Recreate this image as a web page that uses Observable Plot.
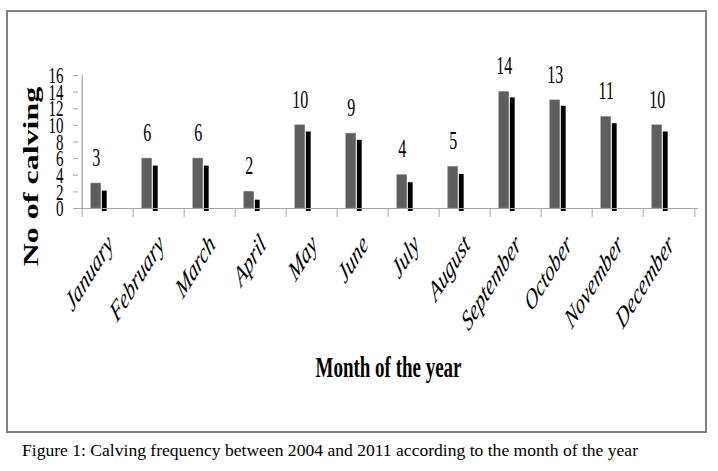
<!DOCTYPE html>
<html>
<head>
<meta charset="utf-8">
<script src="https://cdn.jsdelivr.net/npm/d3@7"></script>
<script src="https://cdn.jsdelivr.net/npm/@observablehq/plot@0.6"></script>
<style>
  html, body { margin: 0; padding: 0; background: #fff; }
  #wrap { position: relative; width: 718px; height: 471px; overflow: hidden; }
  #border { position: absolute; left: 6px; top: 10px; width: 697px; height: 419px; border: 2px solid #808080; }
  #chart { position: absolute; left: 0; top: 0; }
  #caption { position: absolute; left: 22px; top: 443px; font-family: "Liberation Serif", serif; font-size: 16.5px; line-height: 1; white-space: nowrap; transform-origin: 0 0; color: #000; }
</style>
</head>
<body>
<div id="wrap">
  <div id="border"></div>
  <div id="chart"></div>
  <div id="caption">Figure 1: Calving frequency between 2004 and 2011 according to the month of the year</div>
</div>
<script>
const months = ["January","February","March","April","May","June","July","August","September","October","November","December"];
const counts = [3, 6, 6, 2, 10, 9, 4, 5, 14, 13, 11, 10];
const shadowCounts = [2.1, 5.1, 5.1, 1.0, 9.2, 8.2, 3.1, 4.1, 13.3, 12.3, 10.2, 9.2];
const yTicks = [0, 2, 4, 6, 8, 10, 12, 14, 16];

const data = months.map((m, i) => ({month: m, count: counts[i], shadow: shadowCounts[i]}));

const W = 718, H = 436;
const mL = 78, mR = 20, mT = 75, mB = H - 208;
const bw = (W - mL - mR) / months.length;
const axisGray = "#a6a6a6";
const serif = "Liberation Serif, Times New Roman, serif";

const plot = Plot.plot({
  width: W,
  height: H,
  marginLeft: mL,
  marginRight: mR,
  marginTop: mT,
  marginBottom: mB,
  style: {fontFamily: serif, background: "transparent", overflow: "visible"},
  x: {type: "band", domain: months, padding: 0, axis: null},
  y: {domain: [0, 16], axis: null},
  marks: [
    // gray front bars
    Plot.barY(data, {x: "month", y: "count", fill: "#5e5e5e", stroke: "#7c7c7c", strokeWidth: 0.6,
      insetLeft: bw / 2 - 17, insetRight: bw / 2 + 6.5}),
    // black shadow bars
    Plot.barY(data, {x: "month", y: "shadow", fill: "#000",
      insetLeft: bw / 2 - 6, insetRight: bw / 2 + 0.5, insetBottom: -3}),
    // axis lines
    Plot.ruleY([0], {stroke: axisGray, strokeWidth: 1.2}),
    Plot.ruleX([months[0]], {x: d => d, dx: -bw / 2, y1: 0, y2: 16, stroke: axisGray, strokeWidth: 1.2}),
    // y axis ticks & labels
    Plot.axisY({ticks: yTicks, tickSize: 5, tickPadding: 10, stroke: axisGray, fontSize: 15, label: null, fill: "#000"}),
    // x axis boundary ticks
    Plot.axisX({tickSize: 9, dx: -bw / 2, tickFormat: () => "", stroke: axisGray, label: null}),
    Plot.axisX({ticks: [months[11]], tickSize: 9, dx: bw / 2, tickFormat: () => "", stroke: axisGray, label: null}),
    // month labels
    Plot.text(months, {x: d => d, frameAnchor: "bottom", dx: 2, dy: 31, rotate: -45, textAnchor: "end",
      lineAnchor: "middle", fontStyle: "italic", fontSize: 18, fill: "#000"}),
    // value labels
    Plot.text(data, {x: "month", y: "count", text: d => String(d.count), dx: -11.75, dy: -26,
      lineAnchor: "middle", fontSize: 16, fill: "#000"}),
    // axis titles
    Plot.text(["Month of the year"], {frameAnchor: "bottom", dy: 159, lineAnchor: "middle",
      fontWeight: "bold", fontSize: 19, fill: "#000"}),
    Plot.text(["No of calving"], {frameAnchor: "left", dx: -47, dy: 34.5, rotate: -90, lineAnchor: "middle",
      textAnchor: "middle", fontWeight: "bold", fontSize: 20, fill: "#000"})
  ]
});

// The reference figure is vertically stretched: stretch the glyphs the same way.
plot.querySelectorAll("text").forEach(t => {
  let tr = t.getAttribute("transform");
  if (!tr) {
    const x = +(t.getAttribute("x") || 0), y = +(t.getAttribute("y") || 0);
    t.removeAttribute("x"); t.removeAttribute("y");
    tr = `translate(${x},${y})`;
  }
  if (tr.includes("rotate(")) tr = tr.replace("rotate(", "scale(1,1.6) rotate(");
  else tr += " scale(1,1.6)";
  t.setAttribute("transform", tr);
});

document.getElementById("chart").appendChild(plot);

const cap = document.getElementById("caption");
const cw = cap.getBoundingClientRect().width;
cap.style.transform = `scale(${616 / cw}, 1)`;
</script>
</body>
</html>
